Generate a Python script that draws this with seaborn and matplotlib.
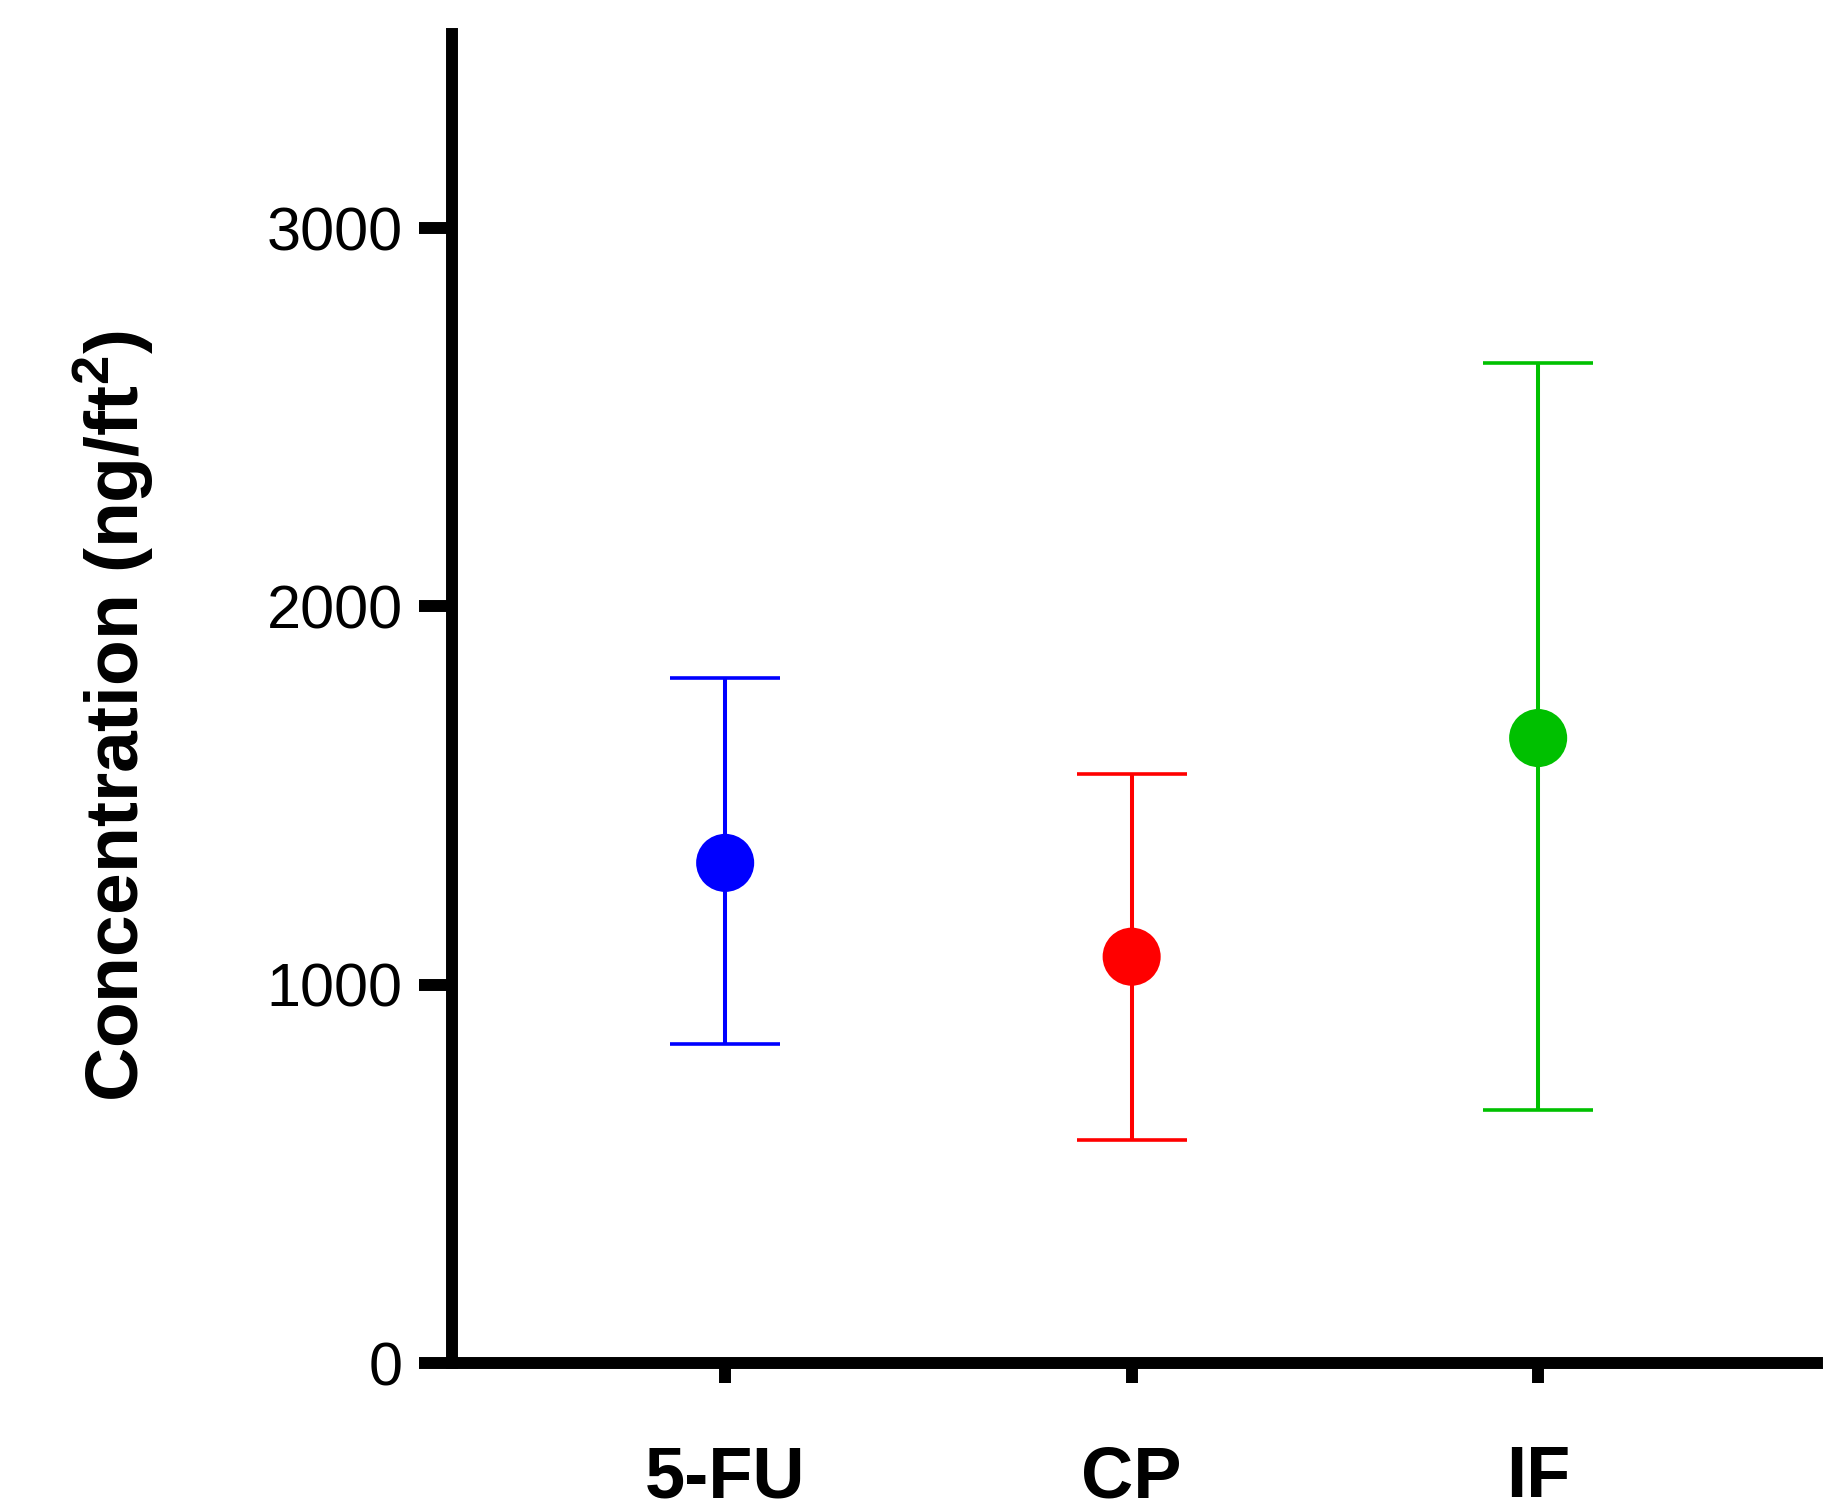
import matplotlib
matplotlib.use("Agg")
import matplotlib.pyplot as plt
import seaborn as sns
import pandas as pd

# ---- data ----
categories = ["5-FU", "CP", "IF"]
means = [1322, 1074, 1652]
lower = [844, 590, 669]
upper = [1811, 1556, 2643]
colors = ["#0000FF", "#FF0000", "#00C000"]
y_ticks = [0, 1000, 2000, 3000]

sns.set_theme(style="white")
plt.rcParams["font.family"] = ["Liberation Sans", "DejaVu Sans"]
plt.rcParams["mathtext.fontset"] = "custom"
plt.rcParams["mathtext.rm"] = "Liberation Sans"
plt.rcParams["mathtext.bf"] = "Liberation Sans:bold"
plt.rcParams["text.color"] = "black"
plt.rcParams["axes.labelcolor"] = "black"

df = pd.DataFrame({"group": categories, "conc": means})

fig = plt.figure(figsize=(1845 / 200, 1512 / 200), dpi=200)
ax = fig.add_axes([452 / 1845, 1 - 1363 / 1512, (1817 - 452) / 1845, (1363 - 34) / 1512])

# error bars
for i, (m, lo, hi, c) in enumerate(zip(means, lower, upper, colors)):
    ax.errorbar([categories[i]], [m], yerr=[[m - lo], [hi - m]], fmt="none",
                ecolor=c, elinewidth=1.45, capsize=19.8, capthick=1.3, zorder=2)

sns.scatterplot(data=df, x="group", y="conc", hue="group", palette=colors,
                s=20.9 ** 2, edgecolor="none", legend=False, ax=ax, zorder=3)

ax.set_xlim(-0.672, 2.686)
ax.set_ylim(0, 3513)
ax.set_yticks(y_ticks)
ax.set_yticklabels([str(v) for v in y_ticks], fontsize=22)
ax.set_xticks(range(len(categories)))
ax.set_xticklabels(categories, fontsize=26, fontweight="bold")

for s in ["top", "right"]:
    ax.spines[s].set_visible(False)
for s in ["left", "bottom"]:
    ax.spines[s].set_linewidth(4.3)
    ax.spines[s].set_color("black")

ax.tick_params(axis="y", which="major", direction="out", length=11.9, width=4.3,
               pad=5.8, colors="black", left=True)
ax.tick_params(axis="x", which="major", direction="out", length=7.2, width=4.3,
               pad=22, colors="black", bottom=True)

ax.set_xlabel("")
ax.set_ylabel(r"Concentration (ng/ft$^{\mathbf{2}}$)", fontsize=27,
              fontweight="bold", color="black")
ax.yaxis.set_label_coords(-0.217, 0.487)

fig.savefig("out.png", dpi=200, facecolor="white")
